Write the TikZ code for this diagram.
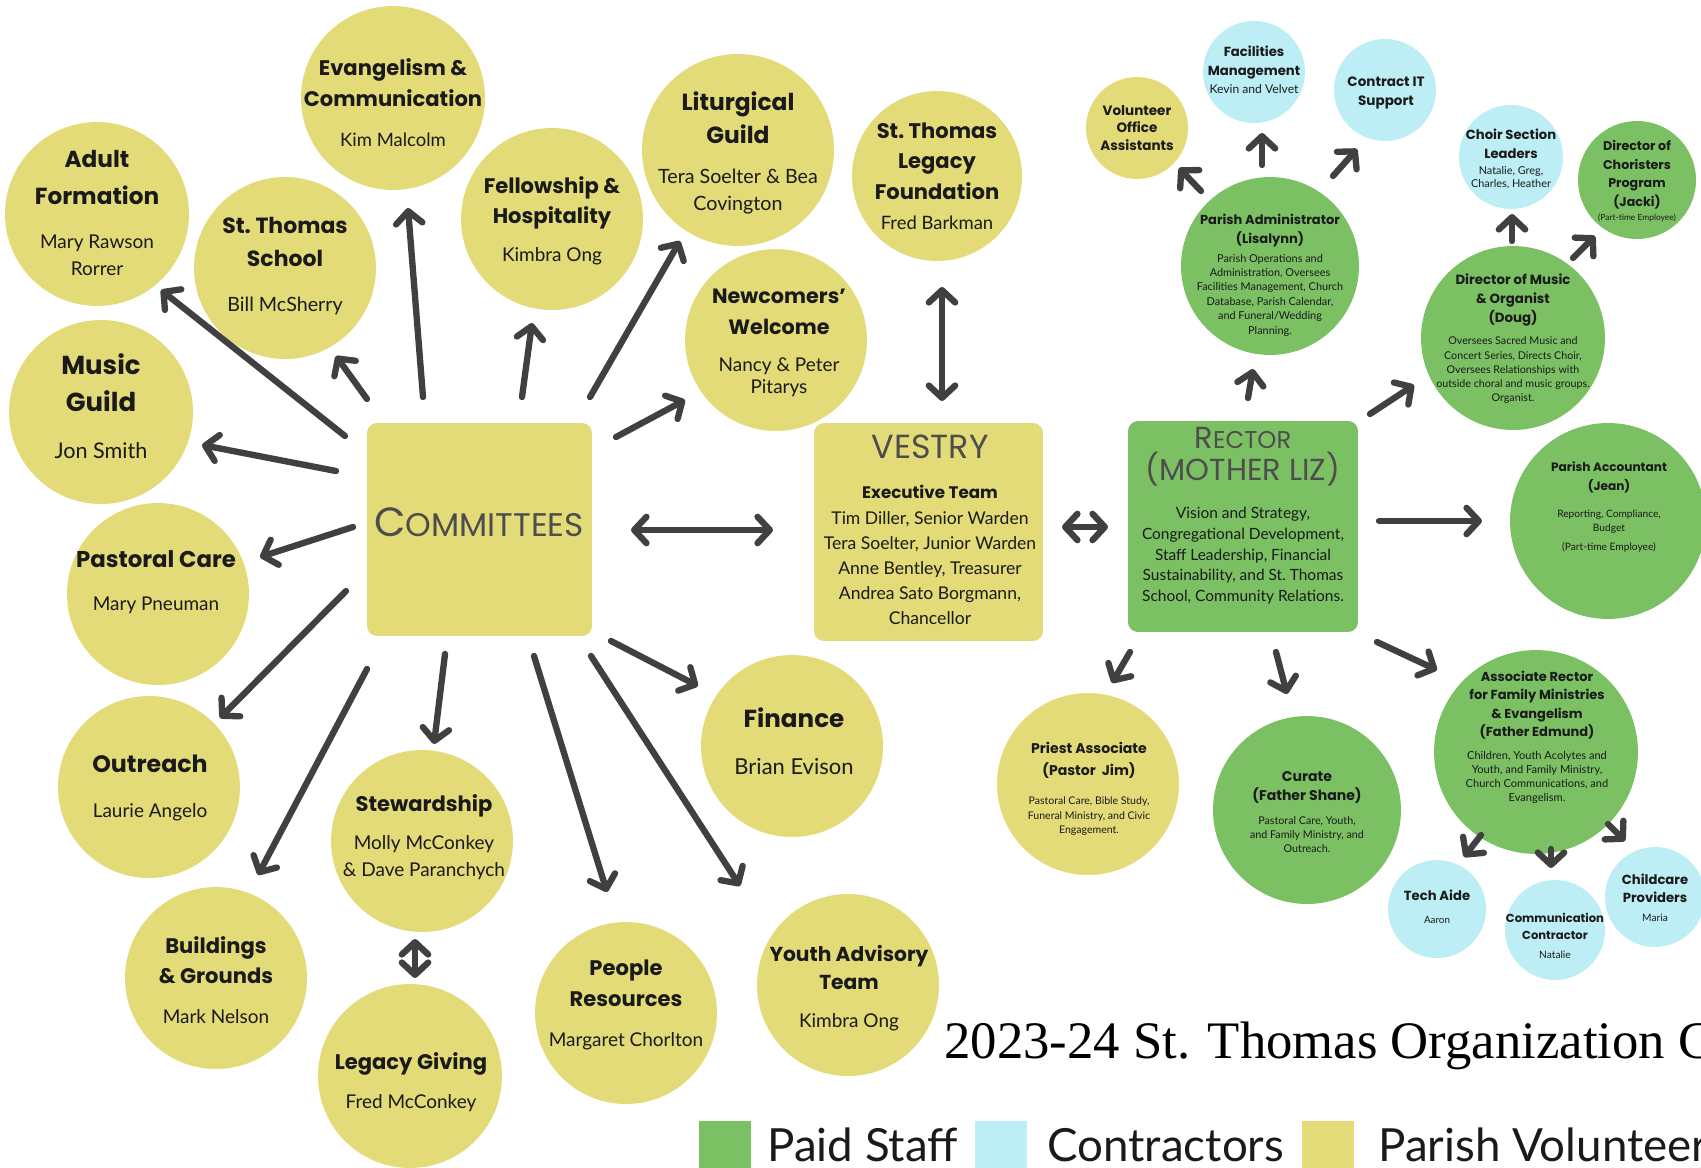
\documentclass[tikz,border=0pt]{standalone}
\usepackage{fontspec}
\usetikzlibrary{arrows.meta}
\setmainfont{Lato}
\newfontfamily\hfam{Poppins}
\newfontfamily\bfam{Lato}
\newfontfamily\tfam{Liberation Serif}
\definecolor{yel}{HTML}{E2DB77}
\definecolor{grn}{HTML}{7CC064}
\definecolor{blu}{HTML}{BEEEF5}
\definecolor{arrc}{HTML}{404040}
\definecolor{txtc}{HTML}{1A1A1A}
\definecolor{headgray}{HTML}{4D4D4D}
\newcommand\nosk{\spaceskip=\fontdimen2\font\relax\xspaceskip=\fontdimen2\font\relax}
\newcommand\hf[2]{\fontsize{#1pt}{#2pt}\selectfont\hfam\bfseries\nosk}
\newcommand\nf[2]{\fontsize{#1pt}{#2pt}\selectfont\bfam\mdseries\nosk}
\newcommand\cblock[7]{{\hf{#1}{#2}#3\par}\vskip\dimexpr#4pt-#6pt\relax{\nf{#5}{#6}#7\par}}
\newcommand\smc[1]{{\fontsize{13.8pt}{18.1pt}\selectfont #1}}
\tikzset{
 cir/.style={circle, inner sep=0pt, minimum size=#1*0.04cm},
 txt/.style={align=flush center, text width=6cm, inner sep=0pt, text=txtc},
 box/.style={rectangle, rounded corners=0.2cm, inner sep=0pt},
 legtxt/.style={anchor=base west, inner sep=0pt, text depth=0pt, text=txtc, font=\bfam\fontsize{26pt}{26pt}\selectfont},
 arw/.style={draw=arrc, line width=3.6pt, line cap=round, -{Straight Barb[length=7pt,width=15pt,round]}},
 darw/.style={draw=arrc, line width=3.6pt, line cap=round, {Straight Barb[length=7pt,width=15pt,round]}-{Straight Barb[length=7pt,width=15pt,round]}}
}
\begin{document}
\begin{tikzpicture}[x=0.02cm,y=-0.02cm]
\useasboundingbox (0,0) rectangle (1701,1167);
\clip (0,0) rectangle (1701,1167);
\fill[white] (0,0) rectangle (1701,1167);
% ---------- committee circles ----------
\node[cir=92, fill=yel] (evang) at (393,98) {};
\node[cir=92, fill=yel] (adult) at (97,214) {};
\node[cir=91, fill=yel] (school) at (285,268) {};
\node[cir=92, fill=yel] (music) at (101,412) {};
\node[cir=91, fill=yel] (fellow) at (552,219) {};
\node[cir=96, fill=yel] (litur) at (738,150) {};
\node[cir=85, fill=yel] (legfound) at (937,176) {};
\node[cir=91, fill=yel] (newcom) at (776,340) {};
\node[cir=91, fill=yel] (pastoral) at (158,594) {};
\node[cir=91, fill=yel] (outreach) at (149,787) {};
\node[cir=91, fill=yel] (build) at (216,978) {};
\node[cir=91, fill=yel] (steward) at (422,841) {};
\node[cir=92, fill=yel] (leggiv) at (410,1076) {};
\node[cir=91, fill=yel] (people) at (626,1013) {};
\node[cir=91, fill=yel] (finance) at (792,746) {};
\node[cir=91, fill=yel] (youth) at (848,985) {};
% ---------- boxes ----------
\node[box, fill=yel, minimum width=4.5cm, minimum height=4.26cm] (comm) at (479.5,529.5) {};
\node[box, fill=yel, minimum width=4.58cm, minimum height=4.36cm] (vestry) at (928.5,532) {};
\node[box, fill=grn, minimum width=4.6cm, minimum height=4.22cm] (rector) at (1243,526.5) {};
% ---------- staff circles ----------
\node[cir=51, fill=yel] (voloff) at (1137,128) {};
\node[cir=51, fill=blu] (facil) at (1254,72) {};
\node[cir=51, fill=blu] (itsup) at (1385,90) {};
\node[cir=89, fill=grn] (padmin) at (1270,266) {};
\node[cir=52, fill=blu] (choir) at (1511,157) {};
\node[cir=59, fill=grn] (chorist) at (1637,180) {};
\node[cir=92, fill=grn] (dirmus) at (1513,338) {};
\node[cir=98, fill=grn] (acct) at (1608,521) {};
\node[cir=91, fill=yel] (priest) at (1088,784) {};
\node[cir=94, fill=grn] (curate) at (1307,810) {};
\node[cir=102, fill=grn] (assoc) at (1536,752) {};
\node[cir=49, fill=blu] (tech) at (1437,909) {};
\node[cir=50, fill=blu] (commc) at (1555,930) {};
\node[cir=50, fill=blu] (childc) at (1655,897) {};
% ---------- committee texts ----------
\node[txt] (evang-t) at (393,103) {\cblock{12}{17.6}{Evangelism \&\\Communication}{22.7}{10.5}{15.3}{Kim Malcolm}};
\node[txt] (adult-t) at (97,213) {\cblock{13.2}{21}{Adult\\Formation}{25}{10.8}{15.3}{Mary Rawson\\Rorrer}};
\node[txt] (school-t) at (285,266) {\cblock{12.5}{18.7}{St. Thomas\\School}{25.5}{11.2}{15.3}{Bill McSherry}};
\node[txt] (music-t) at (101,406) {\cblock{14.8}{21}{Music\\Guild}{26.6}{12.3}{15.3}{Jon Smith}};
\node[txt] (fellow-t) at (552,221) {\cblock{12}{17}{Fellowship \&\\Hospitality}{22}{10.8}{15.3}{Kimbra Ong}};
\node[txt] (litur-t) at (738,153) {\cblock{13.3}{18.7}{Liturgical\\Guild}{22.7}{11.2}{15.3}{Tera Soelter \& Bea\\Covington}};
\node[txt] (legfound-t) at (937,176) {\cblock{12}{17.3}{St. Thomas\\Legacy\\Foundation}{17}{10.5}{15.3}{Fred Barkman}};
\node[txt] (newcom-t) at (779,343) {\cblock{11.8}{17.6}{Newcomers’\\Welcome}{21}{10.8}{13}{Nancy \& Peter\\Pitarys}};
\node[txt] (pastoral-t) at (156,582) {\cblock{13}{18}{Pastoral Care}{24.4}{10.8}{15.3}{Mary Pneuman}};
\node[txt] (outreach-t) at (150,788) {\cblock{13.5}{18}{Outreach}{25.5}{10.8}{15.3}{Laurie Angelo}};
\node[txt] (build-t) at (216,980) {\cblock{12}{17}{Buildings\\\& Grounds}{22.7}{10.8}{15.3}{Mark Nelson}};
\node[txt] (steward-t) at (424,837) {\cblock{12}{17}{Stewardship}{21.5}{10.8}{15.3}{Molly McConkey\\\& Dave Paranchych}};
\node[txt] (leggiv-t) at (411,1082) {\cblock{12}{17}{Legacy Giving}{22}{10.8}{15.3}{Fred McConkey}};
\node[txt] (people-t) at (626,1005) {\cblock{12}{17.6}{People\\Resources}{23.2}{10.8}{15.3}{Margaret Chorlton}};
\node[txt] (finance-t) at (794,741) {\cblock{14}{18}{Finance}{26.6}{12.5}{15.3}{Brian Evison}};
\node[txt] (youth-t) at (849,988) {\cblock{11.5}{16.4}{Youth Advisory\\Team}{21.5}{10.8}{15.3}{Kimbra Ong}};
% ---------- box texts ----------
\node[txt] (comm-t) at (479,522) {\hfam\color{headgray}\fontsize{23.2pt}{26pt}\selectfont C{\fontsize{18.6pt}{26pt}\selectfont OMMITTEES}};
\node[txt] (vestry-t) at (930,530) {{\fontsize{19pt}{20pt}\selectfont\hfam\color{headgray}VESTRY\par}\vskip\dimexpr22.7pt-13pt\relax
{\hf{9.5}{13}Executive Team\par}\vskip\dimexpr14.7pt-14.3pt\relax
{\nf{10}{14.3}Tim Diller, Senior Warden\\Tera Soelter, Junior Warden\\Anne Bentley, Treasurer\\Andrea Sato Borgmann,\\Chancellor\par}};
\node[txt] (rector-t) at (1243,516) {{\fontsize{17.3pt}{18.1pt}\selectfont\hfam\color{headgray}\nosk R\smc{ECTOR}\\(MOTHER LIZ)\par}\vskip\dimexpr21.5pt-11.9pt\relax
{\nf{8.8}{11.9}Vision and Strategy,\\Congregational Development,\\Staff Leadership, Financial\\Sustainability, and St. Thomas\\School, Community Relations.\par}};
% ---------- staff texts ----------
\node[txt] (voloff-t) at (1137,128) {{\hf{7.7}{10.2}Volunteer\\Office\\Assistants\par}};
\node[txt] (facil-t) at (1254,70) {\cblock{7.5}{10.8}{Facilities\\Management}{10.2}{6.9}{9}{Kevin and Velvet}};
\node[txt] (itsup-t) at (1386,93) {{\hf{7.7}{10.8}Contract IT\\Support\par}};
\node[txt] (padmin-t) at (1270,275) {\cblock{7.4}{10.8}{Parish Administrator\\(Lisalynn)}{10.8}{6.2}{8.2}{Parish Operations and\\Administration, Oversees\\Facilities Management, Church\\Database, Parish Calendar,\\and Funeral/Wedding\\Planning.}};
\node[txt] (choir-t) at (1511,159) {\cblock{7.5}{10.8}{Choir Section\\Leaders}{9.6}{6.2}{7.4}{Natalie, Greg,\\Charles, Heather}};
\node[txt] (chorist-t) at (1637,181) {\cblock{7.2}{10.6}{Director of\\Choristers\\Program\\(Jacki)}{8}{4.8}{6}{(Part-time Employee)}};
\node[txt] (dirmus-t) at (1513,339) {\cblock{7.6}{10.8}{Director of Music\\\& Organist\\(Doug)}{12.5}{6.1}{8.1}{Oversees Sacred Music and\\Concert Series, Directs Choir,\\Oversees Relationships with\\outside choral and music groups.\\Organist.}};
\node[txt] (acct-t) at (1609,507) {\cblock{6.9}{10.8}{Parish Accountant\\(Jean)}{15.3}{5.8}{7.9}{Reporting, Compliance,\\Budget\\[3pt](Part-time Employee)}};
\node[txt] (priest-t) at (1089,789) {\cblock{8}{12.5}{Priest Associate\\(Pastor\ \ Jim)}{16.4}{6}{8.2}{Pastoral Care, Bible Study,\\Funeral Ministry, and Civic\\Engagement.}};
\node[txt] (curate-t) at (1307,812) {\cblock{8}{10.8}{Curate\\(Father Shane)}{13.6}{6.1}{8}{Pastoral Care, Youth,\\and Family Ministry, and\\Outreach.}};
\node[txt] (assoc-t) at (1537,737) {\cblock{7.4}{10.6}{Associate Rector\\for Family Ministries\\\& Evangelism\\(Father Edmund)}{13}{6.3}{7.9}{Children, Youth Acolytes and\\Youth, and Family Ministry,\\Church Communications, and\\Evangelism.}};
\node[txt] (tech-t) at (1437,907) {\cblock{7.5}{10}{Tech Aide}{13}{5.6}{7}{Aaron}};
\node[txt] (commc-t) at (1555,936) {\cblock{6.6}{9.6}{Communication\\Contractor}{11.3}{5.8}{7}{Natalie}};
\node[txt] (childc-t) at (1655,898) {\cblock{7.5}{10.2}{Childcare\\Providers}{10.8}{5.8}{7}{Maria}};
% ---------- arrow end points ----------
\coordinate (a1s) at (345,436);  \coordinate (a1e) at (161,290);
\coordinate (a2s) at (367,399);  \coordinate (a2e) at (336,356);
\coordinate (a3s) at (423,397);  \coordinate (a3e) at (408,208);
\coordinate (a4s) at (522,397);  \coordinate (a4e) at (532,323);
\coordinate (a5s) at (590,397);  \coordinate (a5e) at (680,241);
\coordinate (a6s) at (616,437);  \coordinate (a6e) at (685,400);
\coordinate (a7s) at (336,471);  \coordinate (a7e) at (202,445);
\coordinate (a8s) at (353,527);  \coordinate (a8e) at (260,557);
\coordinate (a9s) at (346,591);  \coordinate (a9e) at (220,718);
\coordinate (a10s) at (367,669); \coordinate (a10e) at (258,875);
\coordinate (a11s) at (445,654); \coordinate (a11e) at (434,744);
\coordinate (a12s) at (534,656); \coordinate (a12e) at (607,892);
\coordinate (a13s) at (591,656); \coordinate (a13e) at (740,886);
\coordinate (a14s) at (611,641); \coordinate (a14e) at (698,686);
\coordinate (d1s) at (631,530);  \coordinate (d1e) at (773,530);
\coordinate (d2s) at (942,401);  \coordinate (d2e) at (942,287);
\coordinate (d3s) at (1062,527); \coordinate (d3e) at (1108,527);
\coordinate (d4s) at (415,939);  \coordinate (d4e) at (415,978);
\coordinate (r1s) at (1248,398); \coordinate (r1e) at (1253,369);
\coordinate (r2s) at (1201,191); \coordinate (r2e) at (1179,168);
\coordinate (r3s) at (1262,165); \coordinate (r3e) at (1262,133);
\coordinate (r4s) at (1333,176); \coordinate (r4e) at (1357,149);
\coordinate (r5s) at (1370,414); \coordinate (r5e) at (1414,385);
\coordinate (r6s) at (1512,241); \coordinate (r6e) at (1512,214);
\coordinate (r7s) at (1573,258); \coordinate (r7e) at (1595,236);
\coordinate (r8s) at (1379,521); \coordinate (r8e) at (1482,521);
\coordinate (r9s) at (1130,652); \coordinate (r9e) at (1112,683);
\coordinate (r10s) at (1276,652); \coordinate (r10e) at (1287,694);
\coordinate (r11s) at (1377,642); \coordinate (r11e) at (1437,670);
\coordinate (r12s) at (1481,835); \coordinate (r12e) at (1464,857);
\coordinate (r13s) at (1551,849); \coordinate (r13e) at (1551,868);
\coordinate (r14s) at (1608,824); \coordinate (r14e) at (1625,841);
% ---------- arrows ----------
\foreach \a in {a1,a2,a3,a4,a5,a6,a7,a8,a9,a10,a11,a12,a13,a14,r1,r2,r3,r4,r5,r6,r7,r8,r9,r10,r11,r12,r13,r14}
  \draw[arw] (\a s) -- (\a e);
\foreach \a in {d1,d2,d3,d4}
  \draw[darw] (\a s) -- (\a e);
% ---------- title & legend ----------
\node[anchor=base west, inner sep=0pt, text=black, font=\tfam\fontsize{30pt}{30pt}\selectfont] (title) at (944,1058) {2023-24 St. Thomas Organization Chart};
\fill[grn] (699,1121) rectangle (751,1170);
\fill[blu] (975,1121) rectangle (1027,1170);
\fill[yel] (1302,1121) rectangle (1354,1170);
\node[legtxt] (leg1) at (767,1161) {Paid Staff};
\node[legtxt] (leg2) at (1047,1161) {Contractors};
\node[legtxt] (leg3) at (1378,1161) {Parish Volunteers};
\end{tikzpicture}
\end{document}
